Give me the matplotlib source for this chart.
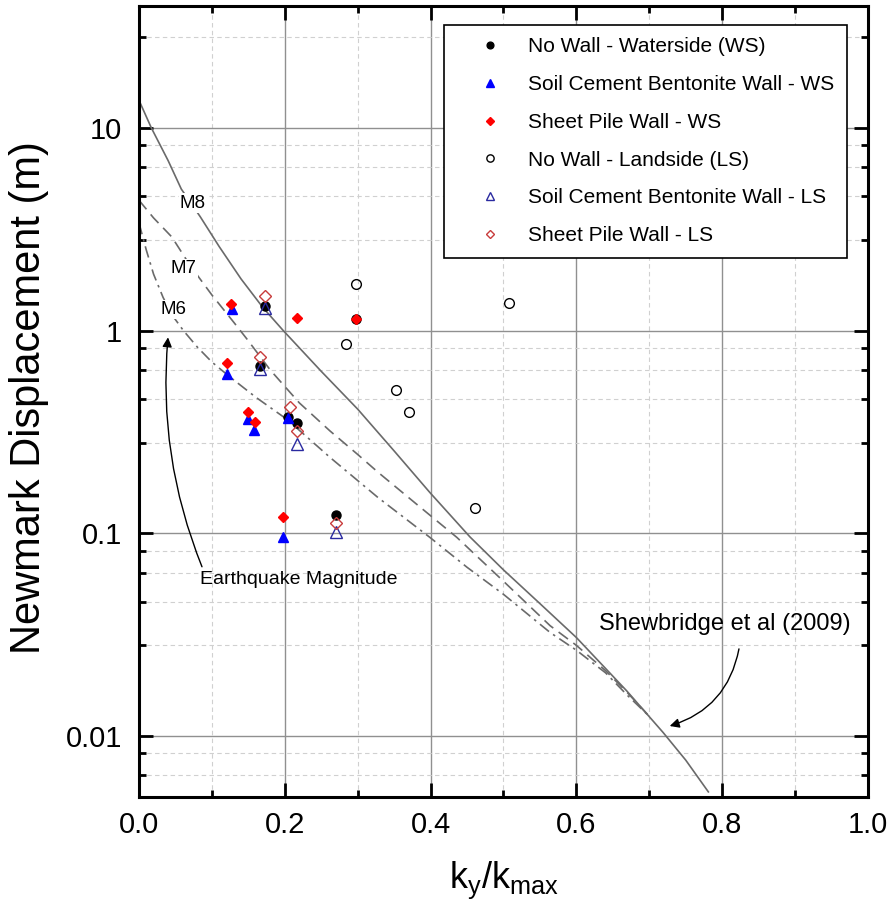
import numpy as np
import matplotlib.pyplot as plt
from matplotlib.ticker import FixedLocator, NullFormatter

plt.rcParams['font.family'] = ['Liberation Sans', 'DejaVu Sans']

# --- data ---
nw_ws_x = [0.173, 0.298, 0.166, 0.205, 0.217, 0.270]
nw_ws_y = [1.33, 1.14, 0.67, 0.374, 0.351, 0.123]

scb_ws_x = [0.127, 0.121, 0.150, 0.158, 0.204, 0.197]
scb_ws_y = [1.28, 0.612, 0.366, 0.324, 0.37, 0.0954]

sp_ws_x = [0.126, 0.217, 0.298, 0.121, 0.150, 0.159, 0.197]
sp_ws_y = [1.35, 1.16, 1.14, 0.69, 0.396, 0.353, 0.121]

nw_ls_x = [0.297, 0.507, 0.284, 0.353, 0.371, 0.461]
nw_ls_y = [1.69, 1.37, 0.86, 0.507, 0.399, 0.134]

scb_ls_x = [0.173, 0.166, 0.217, 0.270]
scb_ls_y = [1.29, 0.646, 0.276, 0.101]

sp_ls_x = [0.173, 0.166, 0.207, 0.217, 0.270]
sp_ls_y = [1.48, 0.74, 0.422, 0.321, 0.112]

# Shewbridge et al (2009) curves
m8_x = [0, 0.017, 0.04, 0.058, 0.084, 0.11, 0.14, 0.17, 0.198, 0.25, 0.30, 0.35, 0.399,
        0.454, 0.5, 0.55, 0.6, 0.669, 0.719, 0.75, 0.781]
m8_y = [13.7, 10, 6.9, 5.0, 3.65, 2.6, 1.8, 1.3, 1.0, 0.63, 0.41, 0.255, 0.159,
        0.096, 0.066, 0.045, 0.0306, 0.0167, 0.0104, 0.0076, 0.0053]

m7_x = [0, 0.02, 0.045, 0.07, 0.1, 0.13, 0.148, 0.18, 0.22, 0.262, 0.3, 0.328, 0.38,
        0.436, 0.5, 0.564, 0.6, 0.64, 0.669, 0.70]
m7_y = [4.4, 3.6, 2.9, 2.1, 1.5, 1.1, 0.91, 0.64, 0.44, 0.32, 0.245, 0.2, 0.14,
        0.0955, 0.058, 0.035, 0.028, 0.021, 0.0165, 0.0125]

m6_x = [0, 0.01, 0.02, 0.033, 0.045, 0.061, 0.08, 0.1, 0.125, 0.16, 0.203, 0.262, 0.328,
        0.399, 0.45, 0.5, 0.564, 0.6, 0.64, 0.669, 0.70]
m6_y = [3.4, 2.5, 1.9, 1.46, 1.2, 1.0, 0.83, 0.70, 0.59, 0.47, 0.365, 0.237, 0.15,
        0.0955, 0.068, 0.05, 0.0324, 0.0265, 0.0205, 0.016, 0.0125]

labels = ['No Wall - Waterside (WS)', 'Soil Cement Bentonite Wall - WS', 'Sheet Pile Wall - WS',
          'No Wall - Landside (LS)', 'Soil Cement Bentonite Wall - LS', 'Sheet Pile Wall - LS']

x_ticks = [0.0, 0.2, 0.4, 0.6, 0.8, 1.0]
y_ticks = [0.01, 0.1, 1, 10]
y_ticklabels = ['0.01', '0.1', '1', '10']


fig = plt.figure(figsize=(8.92, 9.15), dpi=100)
ax = fig.add_axes([139/892, 1-797/915, 729/892, 791/915])
ax.set_yscale('log')
ax.set_xlim(0, 1)
ax.set_ylim(0.005, 40)

# curves
cc = '#6a6a6a'
ax.plot(m8_x, m8_y, '-', color=cc, lw=1.2, zorder=2)
ax.plot(m7_x, m7_y, color=cc, lw=1.2, dashes=(7, 4), zorder=2)
ax.plot(m6_x, m6_y, color=cc, lw=1.2, dashes=(7, 3, 1.5, 3), zorder=2)

# points
ax.plot(nw_ws_x, nw_ws_y, 'o', ls='none', color='black', ms=6.5, label=labels[0], zorder=4)
ax.plot(scb_ws_x, scb_ws_y, '^', ls='none', color='blue', ms=7.5, label=labels[1], zorder=4)
ax.plot(sp_ws_x, sp_ws_y, 'D', ls='none', color='red', ms=5.5, label=labels[2], zorder=4)
ax.plot(nw_ls_x, nw_ls_y, 'o', ls='none', mfc='none', mec='black', mew=1, ms=7, label=labels[3], zorder=4)
ax.plot(scb_ls_x, scb_ls_y, '^', ls='none', mfc='none', mec='#2a2aa0', mew=1, ms=8, label=labels[4], zorder=4)
ax.plot(sp_ls_x, sp_ls_y, 'D', ls='none', mfc='none', mec='#c83c3c', mew=1, ms=6, label=labels[5], zorder=4)

# ticks
ax.set_xticks(x_ticks)
ax.set_xticklabels([f'{v:.1f}' for v in x_ticks])
ax.xaxis.set_minor_locator(FixedLocator([0.1, 0.3, 0.5, 0.7, 0.9]))
ax.set_yticks(y_ticks)
ax.set_yticklabels(y_ticklabels)
minor_y = [m * 10.0**k for k in range(-3, 2) for m in (2.8, 4.6, 6.4, 8.2)]
minor_y = [v for v in minor_y if 0.005 < v < 40]
ax.yaxis.set_minor_locator(FixedLocator(minor_y))
ax.yaxis.set_minor_formatter(NullFormatter())
ax.tick_params(which='both', direction='in', top=True, right=True, width=2, labelsize=21)
ax.tick_params(which='major', length=10)
ax.tick_params(which='minor', length=5)
ax.tick_params(axis='y', pad=12)
ax.tick_params(axis='x', pad=10)

ax.set_axisbelow(True)
ax.grid(which='major', color='#909090', lw=1.0, ls='-')
ax.grid(which='minor', color='#d0d0d0', lw=0.8, ls=(0, (4, 3)))
for s in ax.spines.values():
    s.set_linewidth(2.2)

fig.text(504/892, 1-880/915, r'$\mathregular{k_y/k_{max}}$', ha='center', va='center', fontsize=26)
fig.text(29/892, 1-398/915, 'Newmark Displacement (m)', rotation=90, ha='center', va='center', fontsize=30)

# magnitude labels
wb = dict(facecolor='white', edgecolor='none', pad=1)
ax.text(0.074, 4.26, 'M8', fontsize=13.5, ha='center', va='center', bbox=wb, zorder=3)
ax.text(0.0617, 2.03, 'M7', fontsize=13.5, ha='center', va='center', bbox=wb, zorder=3)
ax.text(0.048, 1.27, 'M6', fontsize=13.5, ha='center', va='center', bbox=wb, zorder=3)

ax.text(0.0837, 0.059, 'Earthquake Magnitude', fontsize=14, ha='left', va='center', zorder=3)
ax.annotate('', xy=(0.0398, 0.927), xytext=(0.0864, 0.0684),
            arrowprops=dict(arrowstyle='-|>', connectionstyle='arc3,rad=-0.12', color='black',
                            lw=1, mutation_scale=14, shrinkA=0, shrinkB=0))

ax.text(0.631, 0.0357, 'Shewbridge et al (2009)', fontsize=17, ha='left', va='center', zorder=3)
ax.annotate('', xy=(0.728, 0.0112), xytext=(0.823, 0.0269),
            arrowprops=dict(arrowstyle='-|>', connectionstyle='arc3,rad=-0.3', color='black',
                            lw=1, mutation_scale=14, shrinkA=0, shrinkB=0))

leg = ax.legend(loc='upper right', bbox_to_anchor=(0.971, 0.976), borderaxespad=0, fontsize=15,
                frameon=True, fancybox=False, edgecolor='black', framealpha=1, borderpad=0.6,
                handlelength=3.2, handletextpad=0.25, labelspacing=0.9, markerscale=0.75)
leg.get_frame().set_linewidth(1.2)

fig.savefig('out.png', dpi=100)
